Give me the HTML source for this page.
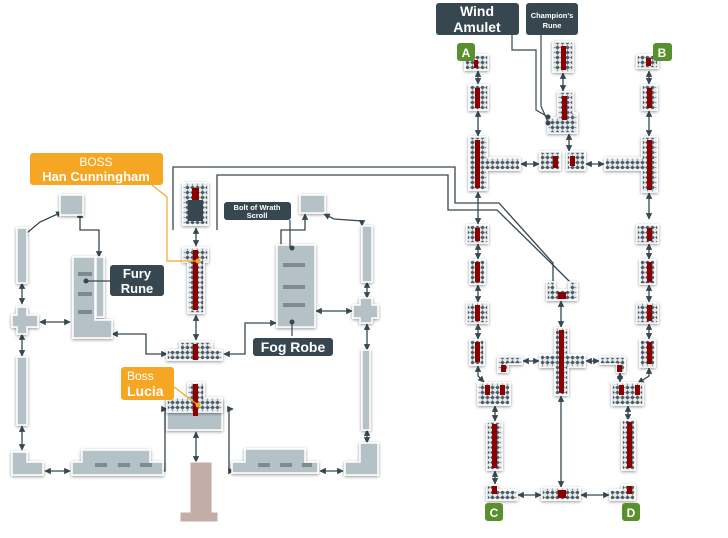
<!DOCTYPE html>
<html><head><meta charset="utf-8"><style>
html,body{margin:0;padding:0;background:#fff;}
svg{display:block;}
text{font-family:"Liberation Sans",sans-serif;font-weight:bold;}
</style></head><body>
<svg width="728" height="538" viewBox="0 0 728 538" xmlns="http://www.w3.org/2000/svg">
<defs>
<pattern id="d" width="5" height="5" patternUnits="userSpaceOnUse">
<rect width="5" height="5" fill="#e4eaed"/>
<path d="M2.5 0.2L4.8 2.5L2.5 4.8L0.2 2.5Z" fill="#4d5d66"/>
</pattern>
<filter id="sh" x="-30%" y="-30%" width="160%" height="160%"><feGaussianBlur in="SourceAlpha" stdDeviation="1.5"/><feOffset dx="0" dy="1"/><feComponentTransfer><feFuncA type="linear" slope="0.45"/></feComponentTransfer><feMerge><feMergeNode/><feMergeNode in="SourceGraphic"/></feMerge></filter>
<marker id="a" viewBox="0 0 10 10" refX="9" refY="5" markerWidth="5" markerHeight="5" orient="auto-start-reverse"><path d="M0 0L10 5L0 10Z" fill="#37474f"/></marker>
</defs>
<g stroke="#37474f" stroke-width="1.3" fill="none">
<polyline points="173,230 173,167 455,167 455,203 499,203 553,263 553,282"/>
<polyline points="217,230 217,175 448,175 448,210 497,210 550,262 570,282"/>
</g>
<g stroke="#37474f" stroke-width="1.3" fill="none" marker-start="url(#a)" marker-end="url(#a)">
<polyline points="22,237 40,222 62,212"/>
<polyline points="80,212 80,230 99,230 99,257"/>
<line x1="22" y1="283" x2="22" y2="304"/>
<line x1="22" y1="334" x2="22" y2="356"/>
<line x1="22" y1="426" x2="22" y2="450"/>
<line x1="40" y1="322" x2="70" y2="322"/>
<line x1="45" y1="471" x2="70" y2="471"/>
<polyline points="112,334 146,334 146,354 167,354"/>
<line x1="196" y1="228" x2="196" y2="246"/>
<line x1="196" y1="315" x2="196" y2="340"/>
<polyline points="224,354 245,354 245,323 276,323"/>
<polyline points="156,471 165,471 165,409 167,409"/>
<polyline points="233,409 229,409 229,471 234,471"/>
<line x1="196" y1="432" x2="196" y2="462"/>
<polyline points="281,263 281,230 305,230 305,214"/>
<polyline points="324,214 334,219 362,221 362,226"/>
<line x1="316" y1="311" x2="352" y2="311"/>
<line x1="367" y1="282" x2="367" y2="298"/>
<line x1="367" y1="324" x2="367" y2="350"/>
<line x1="367" y1="430" x2="367" y2="443"/>
<line x1="320" y1="471" x2="343" y2="471"/>
<line x1="478" y1="71" x2="478" y2="84"/>
<line x1="478" y1="111" x2="478" y2="136"/>
<line x1="478" y1="192" x2="478" y2="224"/>
<line x1="478" y1="244" x2="478" y2="259"/>
<line x1="478" y1="285" x2="478" y2="302"/>
<line x1="478" y1="324" x2="478" y2="339"/>
<polyline points="478,366 478,376 484,382"/>
<line x1="495" y1="406" x2="495" y2="421"/>
<line x1="495" y1="471" x2="495" y2="484"/>
<line x1="521" y1="164" x2="539" y2="164"/>
<line x1="563" y1="73" x2="563" y2="91"/>
<line x1="569" y1="134" x2="569" y2="151"/>
<line x1="586" y1="164" x2="604" y2="164"/>
<line x1="649" y1="71" x2="649" y2="84"/>
<line x1="649" y1="111" x2="649" y2="136"/>
<line x1="649" y1="193" x2="649" y2="219"/>
<line x1="649" y1="244" x2="649" y2="259"/>
<line x1="649" y1="285" x2="649" y2="302"/>
<line x1="649" y1="324" x2="649" y2="339"/>
<polyline points="649,368 649,376 638,383"/>
<line x1="620" y1="373" x2="620" y2="382"/>
<line x1="628" y1="406" x2="628" y2="420"/>
<line x1="561" y1="301" x2="561" y2="327"/>
<line x1="561" y1="396" x2="561" y2="487"/>
<line x1="523" y1="361" x2="539" y2="361"/>
<line x1="586" y1="361" x2="599" y2="361"/>
<line x1="518" y1="495" x2="541" y2="495"/>
<line x1="581" y1="495" x2="609" y2="495"/>
</g>
<g fill="#b4c2c8" stroke="#fff" stroke-width="1.5" filter="url(#sh)">
<path d="M60 195H83V215H60Z"/>
<rect x="17" y="228" width="10" height="55"/>
<path d="M12 315H17V307H27V315H38V327H27V334H17V327H12Z"/>
<rect x="17" y="357" width="10" height="68"/>
<path d="M12 452H27V462H43V475H12Z"/>
<path d="M72 462H82V450H150V462H163V475H72Z"/>
<path d="M73 257H95V320H112V338H73Z"/>
<rect x="96" y="257" width="8" height="60"/>
<path d="M300 195H325V213H300Z"/>
<path d="M277 245H315V327H277Z"/>
<rect x="362" y="226" width="10" height="56"/>
<path d="M353 305H360V298H372V305H378V318H372V323H360V318H353Z"/>
<rect x="362" y="350" width="8" height="80"/>
<path d="M345 462H360V443H378V475H345Z"/>
<path d="M232 462H245V449H305V462H318V473H232Z"/>
<rect x="167" y="400" width="55" height="30"/>
</g>
<g fill="#7c8a92">
<rect x="78" y="272" width="14" height="4"/><rect x="78" y="292" width="14" height="4"/><rect x="78" y="310" width="14" height="4"/>
<rect x="283" y="263" width="22" height="4"/><rect x="283" y="285" width="22" height="4"/><rect x="283" y="303" width="22" height="4"/>
<rect x="95" y="463" width="12" height="4"/><rect x="118" y="463" width="12" height="4"/><rect x="140" y="463" width="12" height="4"/>
<rect x="258" y="463" width="12" height="4"/><rect x="280" y="463" width="12" height="4"/><rect x="302" y="463" width="10" height="4"/>
</g>
<path d="M180 462H212V512H218V522H180V512H190V462Z" fill="#c3aea7" stroke="#fff"/>
<g fill="url(#d)" stroke="#fff" stroke-width="1.5" filter="url(#sh)">
<rect x="183" y="183" width="25" height="42"/>
<path d="M183 248H208V262H204V313H188V262H183Z"/>
<path d="M167 350H180V342H212V350H222V360H167Z"/>
<path d="M188 383H204V398H222V412H167V398H188Z"/>
<rect x="465" y="55" width="23" height="15"/>
<rect x="469" y="85" width="19" height="25"/>
<path d="M469 137H487V158H520V170H487V190H469Z"/>
<rect x="540" y="152" width="20" height="18"/>
<rect x="567" y="152" width="18" height="18"/>
<rect x="553" y="42" width="20" height="30"/>
<path d="M558 92H573V113H577V133H548V118H558Z"/>
<rect x="637" y="55" width="21" height="13"/>
<rect x="642" y="85" width="15" height="25"/>
<path d="M642 137H657V192H642V170H605V158H642Z"/>
<path d="M467 225H488V243H467Z"/>
<rect x="470" y="260" width="15" height="24"/>
<rect x="467" y="303" width="21" height="20"/>
<rect x="470" y="340" width="14" height="25"/>
<rect x="478" y="383" width="32" height="22"/>
<rect x="487" y="422" width="15" height="48"/>
<path d="M487 485H497V490H517V500H487Z"/>
<path d="M637 225H658V243H637Z"/>
<rect x="640" y="260" width="15" height="24"/>
<rect x="637" y="303" width="21" height="20"/>
<rect x="640" y="340" width="15" height="27"/>
<rect x="612" y="383" width="31" height="22"/>
<rect x="622" y="420" width="13" height="50"/>
<path d="M610 490H622V485H635V500H610Z"/>
<path d="M547 282H555V290H569V282H577V300H547Z"/>
<path d="M555 328H568V355H585V367H568V395H555V367H540V355H555Z"/>
<path d="M498 357H522V364H508V372H498Z"/>
<path d="M600 357H625V372H617V364H600Z"/>
<rect x="542" y="488" width="38" height="12"/>
</g>
<g fill="#8b0000">
<rect x="192" y="188" width="7" height="12"/>
<rect x="193" y="250" width="5" height="60"/>
<rect x="193" y="344" width="5" height="16"/>
<rect x="193" y="384" width="5" height="32"/>
<rect x="474" y="60" width="4" height="8"/><rect x="475" y="88" width="5" height="20"/><rect x="475" y="140" width="5" height="48"/>
<rect x="553" y="156" width="5" height="12"/><rect x="570" y="156" width="5" height="10"/>
<rect x="561" y="46" width="5" height="24"/><rect x="562" y="96" width="5" height="24"/>
<rect x="646" y="58" width="5" height="8"/><rect x="647" y="88" width="5" height="20"/><rect x="647" y="140" width="5" height="50"/>
<rect x="475" y="228" width="5" height="13"/><rect x="475" y="262" width="5" height="20"/><rect x="475" y="305" width="5" height="16"/><rect x="475" y="342" width="5" height="20"/>
<rect x="485" y="385" width="5" height="10"/><rect x="500" y="385" width="5" height="10"/><rect x="492" y="424" width="5" height="44"/><rect x="492" y="486" width="5" height="8"/>
<rect x="647" y="228" width="5" height="13"/><rect x="647" y="262" width="5" height="20"/><rect x="647" y="305" width="5" height="16"/><rect x="647" y="342" width="5" height="22"/>
<rect x="619" y="385" width="5" height="10"/><rect x="635" y="385" width="5" height="10"/><rect x="627" y="422" width="5" height="46"/><rect x="627" y="486" width="5" height="8"/>
<rect x="558" y="292" width="8" height="7"/><rect x="559" y="330" width="5" height="63"/>
<rect x="501" y="365" width="5" height="7"/><rect x="617" y="365" width="5" height="7"/>
<rect x="558" y="490" width="8" height="8"/>
</g>
<rect x="188" y="200" width="15" height="21" fill="#37474f"/>
<g stroke="#37474f" stroke-width="1.2" fill="none">
<polyline points="112,281 86,281"/><polyline points="290,220 290,248"/><polyline points="292,336 292,322"/>
<polyline points="512,35 512,50 536,50 536,110 548,117"/><polyline points="541,35 541,106 548,122"/>
</g>
<g stroke="#f5a623" stroke-width="1.2" fill="none"><polyline points="152,185 167,197 167,261 198,261"/><polyline points="174,387 198,405"/></g>
<g fill="#37474f"><circle cx="86" cy="281" r="2.5"/><circle cx="292" cy="248" r="2.5"/><circle cx="292" cy="322" r="2.5"/><circle cx="548" cy="117" r="2.5"/><circle cx="548" cy="123" r="2.5"/></g>
<g fill="#f5a623"><circle cx="198" cy="261" r="2.5"/><circle cx="198" cy="405" r="2.5"/></g>
<rect x="30" y="153" width="133" height="32" rx="3" fill="#f5a623"/>
<text x="96" y="166" font-size="12" fill="#fff" text-anchor="middle" style="font-weight:normal">BOSS</text>
<text x="96" y="181" font-size="13" fill="#fff" text-anchor="middle">Han Cunningham</text>
<rect x="121" y="367" width="53" height="33" rx="3" fill="#f5a623"/>
<text x="127" y="380" font-size="12" fill="#fff" style="font-weight:normal">Boss</text>
<text x="127" y="396" font-size="14" fill="#fff">Lucia</text>
<rect x="110" y="265" width="54" height="31" rx="3" fill="#37474f"/>
<text x="137" y="278" font-size="13" fill="#fff" text-anchor="middle">Fury</text>
<text x="137" y="293" font-size="13" fill="#fff" text-anchor="middle">Rune</text>
<rect x="224" y="202" width="67" height="18" rx="3" fill="#37474f"/>
<text x="257" y="210" font-size="7.5" fill="#fff" text-anchor="middle">Bolt of Wrath</text>
<text x="257" y="218" font-size="7.5" fill="#fff" text-anchor="middle">Scroll</text>
<rect x="253" y="338" width="80" height="18" rx="3" fill="#37474f"/>
<text x="293" y="352" font-size="14" fill="#fff" text-anchor="middle">Fog Robe</text>
<rect x="436" y="3" width="83" height="32" rx="3" fill="#37474f"/>
<text x="477" y="16" font-size="14" fill="#fff" text-anchor="middle">Wind</text>
<text x="477" y="32" font-size="14" fill="#fff" text-anchor="middle">Amulet</text>
<rect x="526" y="3" width="52" height="32" rx="3" fill="#37474f"/>
<text x="552" y="18" font-size="7.5" fill="#fff" text-anchor="middle">Champion's</text>
<text x="552" y="28" font-size="7.5" fill="#fff" text-anchor="middle">Rune</text>
<g fill="#5a8f2e"><rect x="457" y="43" width="18" height="18" rx="3"/><rect x="653" y="43" width="19" height="18" rx="3"/><rect x="485" y="503" width="18" height="18" rx="3"/><rect x="622" y="503" width="18" height="18" rx="3"/></g>
<g fill="#fff" font-size="12" text-anchor="middle" style="font-weight:normal"><text x="466" y="57">A</text><text x="662" y="57">B</text><text x="494" y="517">C</text><text x="631" y="517">D</text></g>
</svg>
</body></html>
